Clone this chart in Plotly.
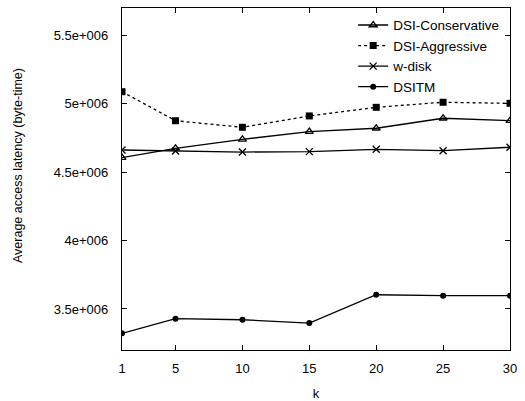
import plotly.graph_objects as go

k = [1, 5, 10, 15, 20, 25, 30]
dsi_conservative = [4.606e6, 4.674e6, 4.740e6, 4.796e6, 4.821e6, 4.894e6, 4.876e6]
dsi_aggressive = [5.088e6, 4.876e6, 4.828e6, 4.911e6, 4.974e6, 5.011e6, 5.003e6]
w_disk = [4.662e6, 4.655e6, 4.647e6, 4.650e6, 4.667e6, 4.657e6, 4.682e6]
dsitm = [3.322e6, 3.429e6, 3.421e6, 3.397e6, 3.604e6, 3.597e6, 3.597e6]

y_tickvals = [3.5e6, 4.0e6, 4.5e6, 5.0e6, 5.5e6]
y_ticktext = ["3.5e+006", "4e+006", "4.5e+006", "5e+006", "5.5e+006"]

FONT = "Liberation Sans, Arial, Helvetica, sans-serif"

fig = go.Figure()
fig.add_trace(go.Scatter(x=k, y=dsi_conservative, name="DSI-Conservative", mode="lines+markers",
                         line=dict(color="black", width=1.3),
                         marker=dict(symbol="triangle-up-open", size=7, color="black", line=dict(width=1.3))))
fig.add_trace(go.Scatter(x=k, y=dsi_aggressive, name="DSI-Aggressive", mode="lines+markers",
                         line=dict(color="black", width=1.3, dash="dot"),
                         marker=dict(symbol="square", size=7, color="black")))
fig.add_trace(go.Scatter(x=k, y=w_disk, name="w-disk", mode="lines+markers",
                         line=dict(color="black", width=1.3),
                         marker=dict(symbol="x-thin-open", size=7, color="black", line=dict(width=1.3))))
fig.add_trace(go.Scatter(x=k, y=dsitm, name="DSITM", mode="lines+markers",
                         line=dict(color="black", width=1.3),
                         marker=dict(symbol="circle", size=6, color="black")))

fig.update_layout(
    width=525, height=401,
    margin=dict(l=122, r=15, t=8, b=51),
    paper_bgcolor="white", plot_bgcolor="white",
    font=dict(family=FONT, size=13, color="black"),
    showlegend=True,
    legend=dict(x=0.985, y=0.995, xanchor="right", yanchor="top",
                bgcolor="rgba(0,0,0,0)", borderwidth=0,
                font=dict(family=FONT, size=13.5, color="black"),
                tracegroupgap=0),
    annotations=[dict(text="Average access latency (byte-time)", textangle=-90,
                      xref="paper", yref="paper", x=-0.268, y=0.538,
                      xanchor="center", yanchor="middle", showarrow=False,
                      font=dict(family=FONT, size=12.5, color="black"))],
)
fig.update_xaxes(
    range=[1, 30], tickvals=k, ticktext=[str(v) for v in k],
    ticks="inside", ticklen=5, tickwidth=1, tickcolor="black",
    showline=True, linecolor="black", linewidth=1.3, mirror="ticks",
    showgrid=False, zeroline=False, automargin=False,
    ticklabelstandoff=6,
    title=dict(text="k", font=dict(family=FONT, size=13), standoff=14),
)
fig.update_yaxes(
    range=[3.2e6, 5.7e6], tickvals=y_tickvals, ticktext=y_ticktext,
    ticks="inside", ticklen=5, tickwidth=1, tickcolor="black",
    showline=True, linecolor="black", linewidth=1.3, mirror="ticks",
    showgrid=False, zeroline=False, automargin=False,
    ticklabelstandoff=10,
)

fig.write_html("out.html", config={"displayModeBar": False},
               post_script="document.body.style.margin='0';document.body.style.overflow='hidden';")
